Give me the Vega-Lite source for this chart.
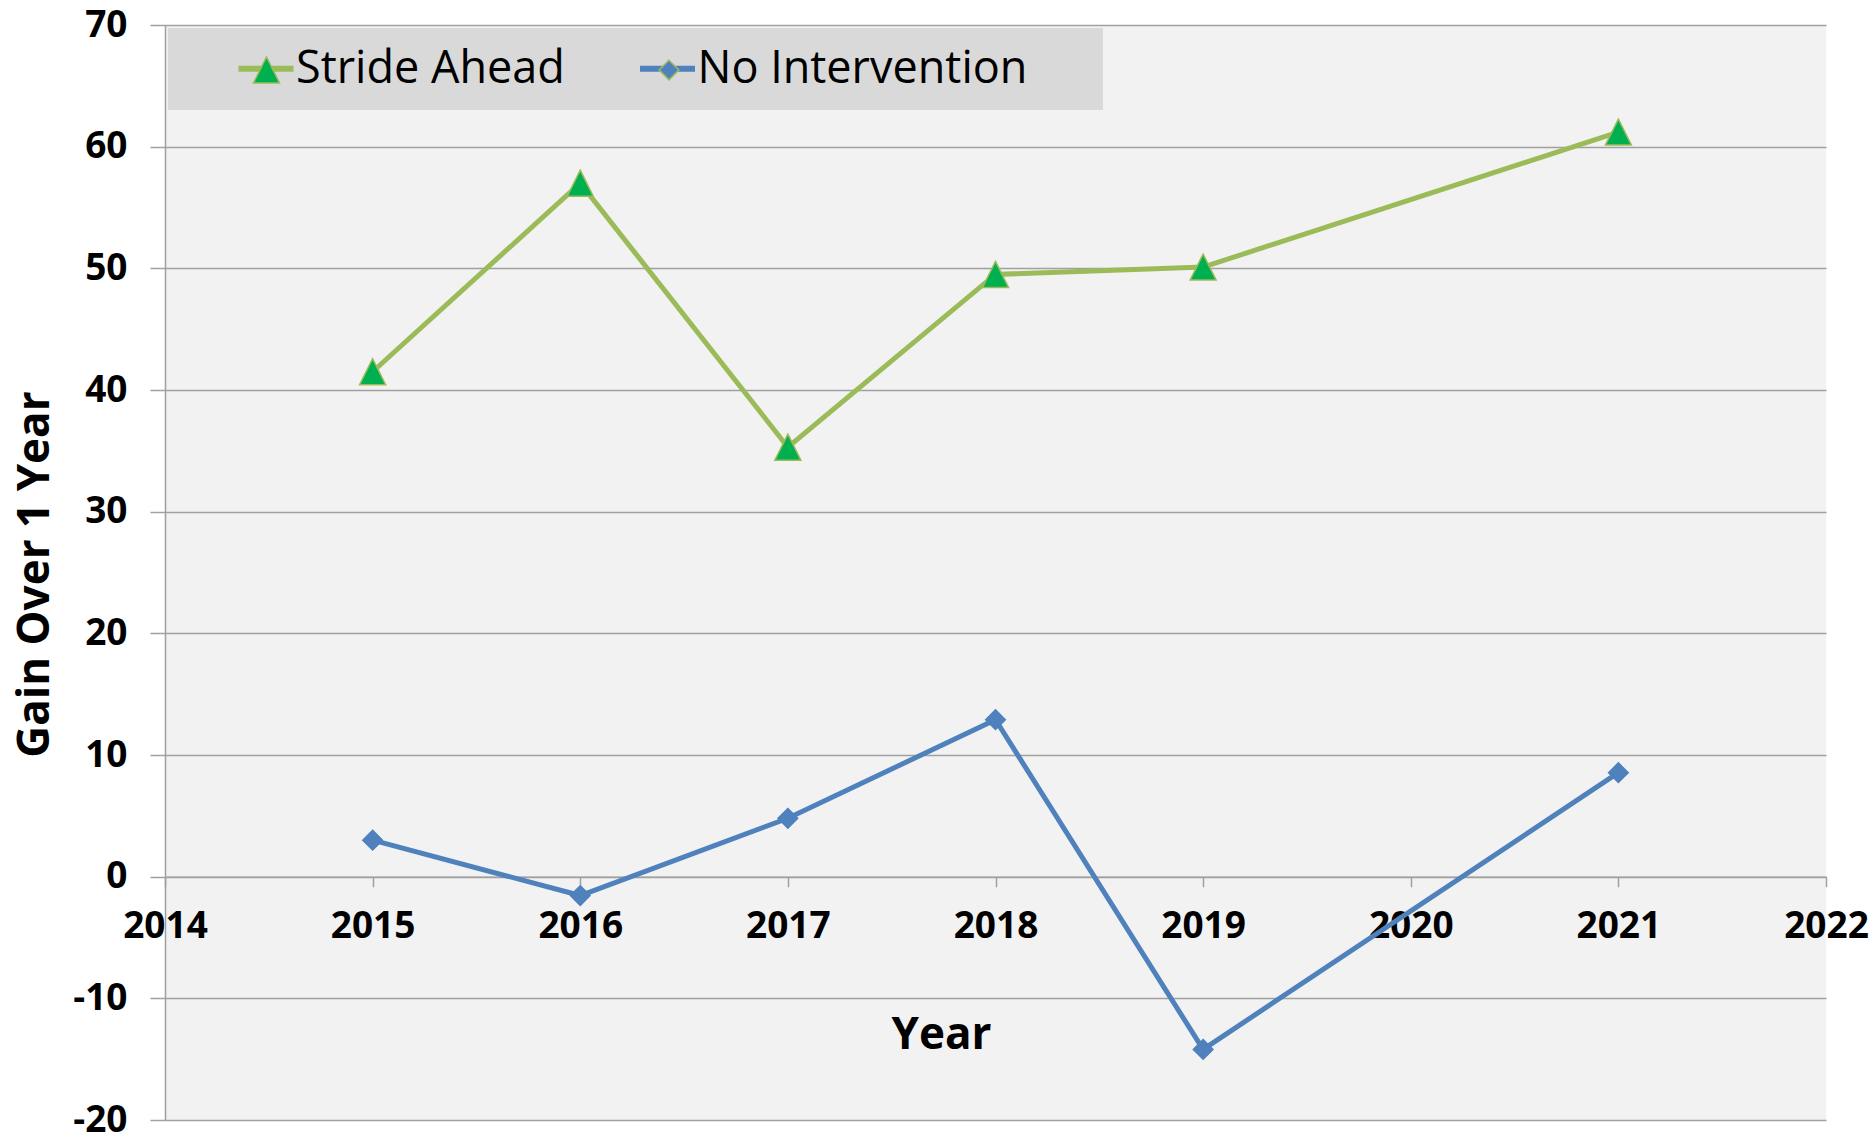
{
  "$schema": "https://vega.github.io/schema/vega-lite/v6.json",
  "width": 1661,
  "height": 1095,
  "autosize": {"type": "none"},
  "padding": {"left": 165, "top": 25, "right": 50, "bottom": 12},
  "background": "white",
  "config": {
    "view": {"stroke": null, "fill": "#f2f2f2"},
    "axis": {"labelColor": "black", "titleColor": "black"}
  },
  "data": {
    "values": [
      {"year": 2015, "series": "Stride Ahead", "value": 41.5},
      {"year": 2016, "series": "Stride Ahead", "value": 57.0},
      {"year": 2017, "series": "Stride Ahead", "value": 35.3},
      {"year": 2018, "series": "Stride Ahead", "value": 49.5},
      {"year": 2019, "series": "Stride Ahead", "value": 50.1},
      {"year": 2021, "series": "Stride Ahead", "value": 61.2},
      {"year": 2015, "series": "No Intervention", "value": 3.0},
      {"year": 2016, "series": "No Intervention", "value": -1.55},
      {"year": 2017, "series": "No Intervention", "value": 4.8},
      {"year": 2018, "series": "No Intervention", "value": 12.9},
      {"year": 2019, "series": "No Intervention", "value": -14.2},
      {"year": 2021, "series": "No Intervention", "value": 8.55}
    ]
  },
  "encoding": {
    "x": {
      "field": "year", "type": "quantitative",
      "scale": {"domain": [2014, 2022], "nice": false, "zero": false},
      "axis": {
        "values": [2014, 2015, 2016, 2017, 2018, 2019, 2020, 2021, 2022],
        "labelExpr": "toString(datum.value)",
        "offset": -243.3,
        "grid": false,
        "title": "Year",
        "titleX": 776, "titleY": 171.3, "titleBaseline": "alphabetic", "titleAlign": "center", "titleAngle": 0,
        "titleFont": "Open Sans", "titleFontSize": 44, "titleFontWeight": "bold",
        "labelFont": "Open Sans", "labelFontSize": 37, "labelFontWeight": "bold",
        "labelPadding": 22, "labelFlush": false, "labelOverlap": false,
        "tickSize": 10, "tickColor": "#a0a0a0", "tickWidth": 1.5,
        "domainColor": "#a0a0a0", "domainWidth": 1.5
      }
    },
    "y": {
      "field": "value", "type": "quantitative",
      "scale": {"domain": [-20, 70], "nice": false, "zero": false},
      "axis": {
        "values": [-20, -10, 0, 10, 20, 30, 40, 50, 60, 70],
        "labelExpr": "toString(datum.value)",
        "title": "Gain Over 1 Year",
        "titleX": -117, "titleY": 549, "titleAngle": -90, "titleBaseline": "alphabetic", "titleAlign": "center",
        "titleFont": "Open Sans", "titleFontSize": 44, "titleFontWeight": "bold",
        "labelFont": "Open Sans", "labelFontSize": 37, "labelFontWeight": "bold",
        "labelPadding": 23, "labelFlush": false, "labelOverlap": false,
        "tickSize": 15, "tickColor": "#a0a0a0", "tickWidth": 1.5,
        "domainColor": "#a0a0a0", "domainWidth": 1.5,
        "grid": true, "gridColor": "#a0a0a0", "gridWidth": 1.5
      }
    }
  },
  "layer": [
    {
      "mark": {"type": "line", "strokeWidth": 5},
      "encoding": {
        "stroke": {
          "field": "series", "type": "nominal",
          "scale": {"domain": ["Stride Ahead", "No Intervention"], "range": ["#9bbb59", "#4f81bd"]},
          "legend": {
            "orient": "top-left", "offset": 3, "title": null, "direction": "horizontal",
            "padding": 18, "fillColor": "#d9d9d9", "strokeColor": null,
            "symbolSize": 1521, "symbolStrokeWidth": 6, "symbolType": "stroke",
            "symbolOffset": 57.5,
            "labelFont": "Open Sans", "labelFontSize": 45, "labelColor": "black", "labelOffset": 7.5, "labelLimit": 800,
            "columnPadding": 22.5,
            "encode": {
              "symbols": {
                "update": {
                  "shape": {"signal": "datum.value === 'Stride Ahead' ? 'M-1.41,0L1.41,0' : 'M-1.41,0L1.41,0M20.75,0'"},
                  "fill": {"value": "transparent"},
                  "strokeWidth": {"value": 6},
                  "opacity": {"value": 1}
                }
              }
            }
          }
        }
      }
    },
    {
      "mark": {"type": "point", "filled": true, "size": 3340, "strokeWidth": 1.5, "opacity": 1},
      "encoding": {
        "shape": {
          "field": "series", "type": "nominal",
          "scale": {
            "domain": ["Stride Ahead", "No Intervention"],
            "range": ["M-0.45,-0.45M0.45,0.45M0,-0.45L0.45,0.45L-0.45,0.45Z", "M-0.45,-0.45M0.45,0.45M0,-0.34L0.34,0L0,0.34L-0.34,0Z"]
          },
          "legend": {
            "orient": "none", "legendX": 71.5, "legendY": 14.5, "title": null, "direction": "horizontal",
            "padding": 0, "fillColor": null, "strokeColor": null,
            "symbolSize": 3340, "symbolStrokeWidth": 1.5,
            "symbolFillColor": "#00b050", "symbolStrokeColor": "#9bbb59",
            "labelExpr": "''", "labelFontSize": 1, "labelOffset": 0,
            "columnPadding": 342.5,
            "encode": {
              "symbols": {
                "update": {
                  "fill": {"signal": "datum.value === 'Stride Ahead' ? '#00b050' : '#4f81bd'"},
                  "stroke": {"signal": "datum.value === 'Stride Ahead' ? '#9bbb59' : '#4f81bd'"},
                  "strokeWidth": {"value": 1.5},
                  "opacity": {"value": 1}
                }
              }
            }
          }
        },
        "fill": {
          "field": "series", "type": "nominal",
          "scale": {"domain": ["Stride Ahead", "No Intervention"], "range": ["#00b050", "#4f81bd"]},
          "legend": null
        },
        "stroke": {
          "field": "series", "type": "nominal",
          "legend": null
        }
      }
    }
  ]
}
